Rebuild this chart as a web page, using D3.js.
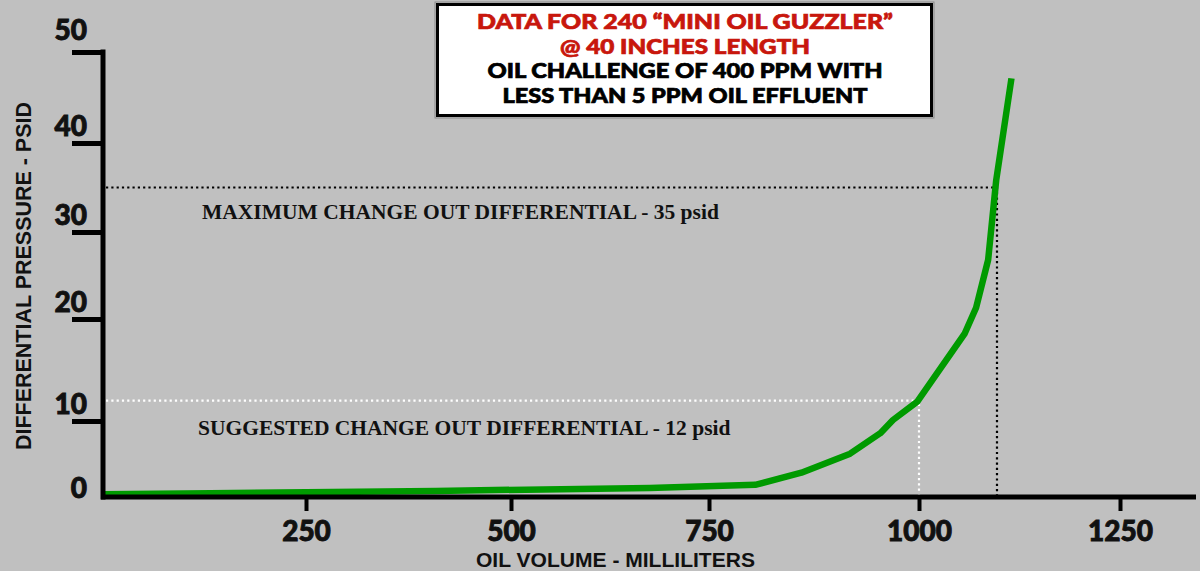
<!DOCTYPE html>
<html>
<head>
<meta charset="utf-8">
<script src="https://cdn.jsdelivr.net/npm/d3@7"></script>
<style>
  html, body { margin: 0; padding: 0; background: #c0c0c0; }
  svg { display: block; }
</style>
</head>
<body>
<div id="chart"></div>
<script>
const width = 1200;
const height = 571;

// Data (ml, psid)
const volume   = [0, 132, 408, 675, 805, 860, 918, 954, 969, 998, 1057, 1071, 1086, 1096, 1115];
const pressure = [0.35, 0.5, 0.8, 1.2, 1.6, 3.2, 5.7, 8.4, 10.1, 11.9, 18.6, 21.3, 26.8, 35.8, 47.1];

const xTicks = [250, 500, 750, 1000, 1250];
const yTicks = [0, 10, 20, 30, 40, 50];

const refLabels = ["MAXIMUM CHANGE OUT DIFFERENTIAL - 35 psid", "SUGGESTED CHANGE OUT DIFFERENTIAL - 12 psid"];
const refPressure = [35, 12];
const refVolume = [1097, 1000];

const titleRed = ["DATA FOR 240 \u201CMINI OIL GUZZLER\u201D", "@ 40 INCHES LENGTH"];
const titleBlack = ["OIL CHALLENGE OF 400 PPM WITH", "LESS THAN 5 PPM OIL EFFLUENT"];
const titleWidths = [416, 250, 395, 365];

const data = volume.map((v, i) => ({v, p: pressure[i]}));

const svg = d3.select("#chart").append("svg")
    .attr("width", width)
    .attr("height", height)
    .attr("viewBox", [0, 0, width, height]);

svg.append("rect").attr("width", width).attr("height", height).attr("fill", "#c0c0c0");

// The hand-drawn axes are not evenly spaced, so use piecewise scales.
const x = d3.scaleLinear()
    .domain([0, 250, 500, 750, 1000, 1250])
    .range([103, 306, 511, 709, 919, 1120]);

const y = d3.scaleLinear()
    .domain([0, 10, 20, 30, 40, 50])
    .range([497, 421, 319, 232, 143, 52]);

const xEnd = 1196;

// Reference lines (dotted)
const refColors = ["#000", "#fff"];
refPressure.forEach((p, i) => {
    svg.append("path")
        .attr("d", `M${x(0) + 3},${y(p)}H${x(refVolume[i])}V${y(0) - 2}`)
        .attr("fill", "none")
        .attr("stroke", refColors[i])
        .attr("stroke-width", 2.2)
        .attr("stroke-dasharray", "2.2 3.1");
});

svg.append("g")
    .attr("font-family", "'Liberation Serif', 'Times New Roman', serif")
    .attr("font-weight", "bold")
    .attr("font-size", 21.5)
    .attr("fill", "#111")
    .selectAll("text")
    .data(refLabels)
    .join("text")
    .attr("x", (d, i) => i === 0 ? 202 : 198)
    .attr("y", (d, i) => y(refPressure[i]) + (i === 0 ? 31 : 34))
    .text(d => d);

// Curve
svg.append("path")
    .datum(data)
    .attr("fill", "none")
    .attr("stroke", "#009a00")
    .attr("stroke-width", 6.5)
    .attr("stroke-linejoin", "round")
    .attr("d", d3.line().x(d => x(d.v)).y(d => y(d.p)));

// X axis
svg.append("g")
    .attr("transform", `translate(0,${y(0)})`)
    .call(d3.axisBottom(x).tickValues(xTicks).tickSize(14).tickFormat(d3.format("d")))
    .call(g => g.select(".domain").remove())
    .call(g => g.selectAll(".tick line").attr("stroke", "#000").attr("stroke-width", 4))
    .call(g => g.selectAll(".tick text")
        .attr("y", 44).attr("dy", 0)
        .attr("fill", "#111")
        .attr("stroke", "#111").attr("stroke-width", 0.9)
        .attr("font-family", "Lato, sans-serif")
        .attr("font-weight", 900)
        .attr("font-size", 28));

svg.append("line")
    .attr("x1", x(0) - 2).attr("x2", xEnd)
    .attr("y1", y(0)).attr("y2", y(0))
    .attr("stroke", "#000").attr("stroke-width", 5);

// Y axis
svg.append("g")
    .attr("transform", `translate(${x(0)},0)`)
    .call(d3.axisLeft(y).tickValues(yTicks).tickSize(31).tickFormat(d3.format("d")))
    .call(g => g.select(".domain").remove())
    .call(g => g.selectAll(".tick line")
        .attr("stroke", "#000").attr("stroke-width", 5)
        .attr("display", d => d === 0 ? "none" : null))
    .call(g => g.selectAll(".tick text")
        .attr("x", -16).attr("dy", d => d === 50 ? -13 : d === 0 ? 0 : -8)
        .attr("fill", "#111")
        .attr("stroke", "#111").attr("stroke-width", 0.9)
        .attr("font-family", "Lato, sans-serif")
        .attr("font-weight", 900)
        .attr("font-size", 28));

svg.append("line")
    .attr("x1", x(0)).attr("x2", x(0))
    .attr("y1", y(50) - 2.5).attr("y2", y(0) + 2.5)
    .attr("stroke", "#000").attr("stroke-width", 5);

// Axis titles
svg.append("text")
    .attr("x", 476).attr("y", 567)
    .attr("font-family", "'Liberation Sans', Arial, sans-serif")
    .attr("font-weight", "bold")
    .attr("font-size", 20)
    .attr("fill", "#111")
    .attr("textLength", 279)
    .attr("lengthAdjust", "spacingAndGlyphs")
    .text("OIL VOLUME - MILLILITERS");

svg.append("text")
    .attr("transform", "translate(31,450) rotate(-90)")
    .attr("font-family", "'Liberation Sans', Arial, sans-serif")
    .attr("font-weight", "bold")
    .attr("font-size", 22)
    .attr("fill", "#111")
    .attr("textLength", 348)
    .attr("lengthAdjust", "spacingAndGlyphs")
    .text("DIFFERENTIAL PRESSURE - PSID");

// Title box
const box = svg.append("g");
box.append("rect")
    .attr("x", 435).attr("y", 2).attr("width", 499).attr("height", 116)
    .attr("fill", "none").attr("stroke", "#8a8a8a").attr("stroke-width", 1);
box.append("rect")
    .attr("x", 437.5).attr("y", 4.5).attr("width", 494).attr("height", 111)
    .attr("fill", "#fff").attr("stroke", "#000").attr("stroke-width", 3);

box.selectAll("text")
    .data(titleRed.concat(titleBlack))
    .join("text")
    .attr("x", 685)
    .attr("y", (d, i) => 29 + i * 24.6)
    .attr("text-anchor", "middle")
    .attr("font-family", "Lato, sans-serif")
    .attr("font-weight", 900)
    .attr("font-size", 20)
    .attr("textLength", (d, i) => titleWidths[i])
    .attr("lengthAdjust", "spacingAndGlyphs")
    .attr("fill", (d, i) => i < titleRed.length ? "#c8170d" : "#000")
    .attr("stroke", (d, i) => i < titleRed.length ? "#c8170d" : "#000")
    .attr("stroke-width", 0.7)
    .text(d => d);
</script>
</body>
</html>
